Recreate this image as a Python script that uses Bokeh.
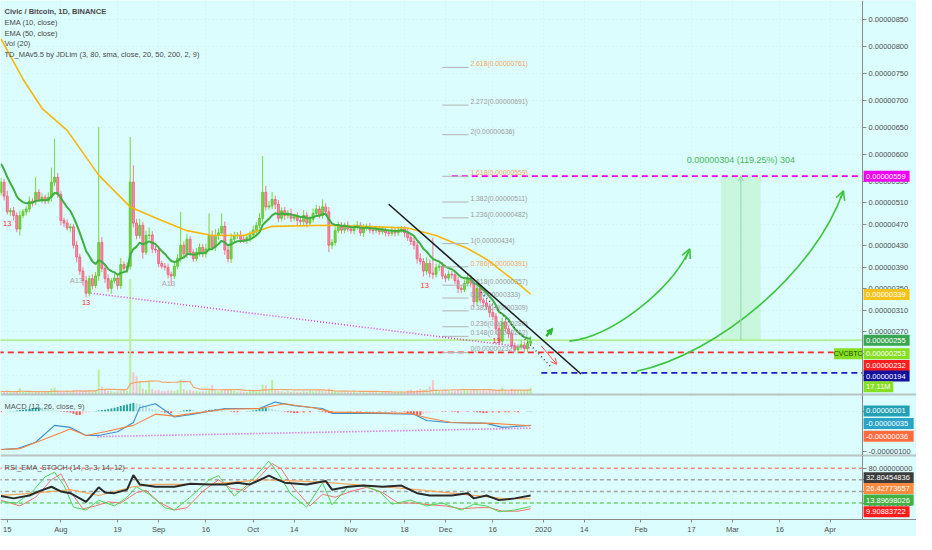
import numpy as np
import pandas as pd
from bokeh.plotting import figure
from bokeh.layouts import column
from bokeh.models import (ColumnDataSource, Range1d, FixedTicker, NumeralTickFormatter, LinearAxis,
                          Label, Span, Arrow, OpenHead, NormalHead, Grid)
from bokeh.core.properties import value
from bokeh.embed import file_html
from bokeh.resources import INLINE

SAT = 1e-8  # prices below are in satoshi (1e-8 BTC)

# ---------------- data ----------------
# day index 0 = 2019-07-13, one candle per day up to 2019-12-28
closes = [548, 522, 493, 495, 486, 461, 486, 493, 498, 513,
          511, 529, 516, 520, 513, 520, 548, 557, 525, 477,
          472, 463, 465, 431, 409, 383, 365, 342, 369, 356,
          374, 436, 388, 369, 351, 365, 370, 356, 395, 388,
          392, 548, 472, 449, 468, 418, 449, 450, 424, 422,
          397, 392, 390, 377, 374, 392, 406, 431, 415, 442,
          418, 406, 418, 427, 415, 424, 449, 427, 449, 454,
          466, 422, 406, 442, 449, 450, 442, 440, 445, 450,
          459, 468, 481, 529, 502, 504, 516, 507, 481, 495,
          486, 490, 481, 484, 477, 475, 486, 472, 479, 490,
          498, 486, 502, 493, 431, 436, 458, 468, 459, 468,
          461, 458, 465, 468, 454, 463, 466, 459, 458, 461,
          456, 459, 454, 453, 458, 454, 459, 461, 454, 445,
          438, 431, 406, 401, 383, 397, 379, 377, 390, 392,
          374, 370, 377, 376, 365, 351, 349, 360, 370, 361,
          326, 351, 329, 324, 317, 306, 299, 276, 253, 288,
          276, 267, 244, 237, 242, 246, 239, 249, 253]
first_open = 529
wick_up = [8, 6, 10, 5, 7, 6, 9, 5, 6, 8,
           5, 28, 6, 7, 5, 9, 27, 71, 8, 6,
           5, 7, 6, 5, 8, 6, 7, 9, 6, 8,
           7, 214, 10, 6, 8, 5, 7, 6, 12, 6,
           7, 84, 31, 8, 12, 6, 9, 14, 7, 6,
           8, 5, 6, 7, 5, 9, 8, 62, 7, 10,
           6, 5, 8, 7, 6, 10, 41, 9, 12, 8,
           24, 9, 6, 11, 7, 5, 8, 6, 5, 7,
           8, 6, 10, 67, 12, 9, 14, 7, 8, 6,
           7, 6, 9, 5, 8, 6, 10, 7, 6, 9,
           8, 6, 14, 7, 9, 6, 8, 7, 6, 5,
           7, 6, 5, 8, 6, 7, 5, 6, 8, 5,
           6, 7, 5, 6, 8, 5, 7, 6, 5, 7,
           6, 8, 7, 10, 6, 12, 8, 66, 7, 6,
           8, 5, 7, 6, 5, 8, 6, 7, 9, 6,
           8, 7, 6, 5, 7, 6, 8, 6, 7, 9,
           6, 5, 7, 6, 5, 8, 6, 7, 9]
wick_dn = [6, 8, 5, 7, 9, 6, 12, 5, 7, 6,
           8, 6, 5, 7, 6, 5, 8, 7, 6, 9,
           7, 5, 8, 6, 10, 7, 9, 8, 6, 7,
           5, 9, 7, 8, 6, 10, 5, 7, 6, 8,
           9, 6, 8, 7, 6, 12, 5, 7, 8, 6,
           7, 5, 6, 8, 18, 6, 5, 7, 6, 8,
           7, 6, 5, 8, 6, 7, 5, 6, 7, 8,
           6, 9, 7, 8, 5, 6, 7, 5, 6, 8,
           5, 7, 6, 8, 7, 5, 6, 9, 7, 6,
           8, 6, 7, 5, 9, 6, 7, 8, 5, 6,
           7, 5, 6, 8, 13, 7, 6, 5, 7, 6,
           5, 6, 7, 5, 6, 8, 5, 6, 7, 5,
           6, 5, 7, 6, 5, 7, 6, 5, 8, 6,
           7, 8, 9, 6, 10, 7, 8, 9, 6, 7,
           6, 8, 5, 7, 6, 9, 7, 5, 6, 8,
           10, 7, 6, 8, 6, 9, 7, 10, 8, 6,
           7, 9, 6, 5, 6, 5, 7, 6, 5]
volume_m = [8, 7, 9, 6, 5, 8, 16, 6, 5, 7,
            5, 6, 8, 5, 6, 7, 15, 17, 10, 8,
            7, 9, 8, 12, 12, 9, 8, 10, 9, 8,
            10, 62, 20, 12, 9, 8, 7, 8, 10, 12,
            9, 290, 56, 46, 34, 15, 12, 34, 14, 10,
            12, 9, 8, 10, 11, 9, 12, 37, 14, 10,
            12, 9, 8, 7, 9, 8, 12, 24, 10, 8,
            9, 14, 12, 14, 9, 7, 8, 7, 6, 8,
            9, 7, 12, 25, 24, 14, 36, 12, 10, 8,
            7, 9, 6, 8, 7, 6, 8, 7, 9, 8,
            10, 12, 9, 8, 14, 10, 8, 7, 6, 8,
            7, 6, 8, 5, 6, 7, 5, 6, 7, 6,
            5, 6, 7, 6, 5, 6, 7, 8, 6, 10,
            12, 9, 11, 14, 12, 13, 20, 36, 12, 10,
            9, 11, 10, 8, 9, 12, 10, 11, 9, 10,
            13, 11, 10, 12, 9, 11, 12, 10, 12, 17,
            10, 9, 14, 12, 11, 10, 9, 12, 17.11]
macd_hist = [-2, -1, 0, 1, 1,
             2, 3, 4, 5, 6, 8, 9, 10, 9, 7, 6, 4,
             2, 1, -1, -1, -2, -3,
             -6, -9, -9, -7, -4,
             -2, -1, 1, 2,
             3, 4, 5, 7, 9, 11, 13, 15, 17, 19, 21, 20, 18, 15, 12, 9, 6, 4, 2,
             -1, -3, -4, -4, -2,
             -1, 1, 2,
             3, 4, 3,
             1, 0, 1, 2,
             3, 4, 5, 4, 3, 2,
             1, -1, -2, -2, -1, 0, 1, 1, 2,
             4, 6, 8, 9, 8, 6, 4, 2,
             1, -1,
             -2, -3, -4, -4, -3, -3, -2, -2, -1,
             0, 1, -1,
             -3, -4, -4, -3,
             -2, -1, 0, 1, 1, 0, -1, -1, 0, 1, 1, 1, 0, -1, 0, 1, 0, -1, -1, 0, 0, -1,
             -4, -6, -8, -9, -9, -7, -5, -3,
             -2, -1, 0, -1, -1, 0, -1, -1,
             -3, -2, -1, -1, 0, -1, -2,
             -3, -4, -4, -3, -3,
             -2, -3, -2, -2, -2, -1, -1, -2, -1,
             0, 1, 1]
macd_days = [0, 5, 11, 17, 22, 27, 31, 37, 42, 44, 49, 55, 61, 71, 82, 87, 93, 102, 105, 121,
             131, 135, 142, 154, 159, 168]
macd_vals = [-95, -93, -77, -35, -40, -60, -60, -51, -28, 9, 19, -14, -7, 7, 7, 23, 14, 7, -5, -5,
             -7, -23, -28, -30, -40, -35]
signal_days = [0, 6, 22, 27, 33, 42, 49, 55, 61, 71, 82, 90, 99, 105, 130, 135, 143, 156, 168]
signal_vals = [-95, -93, -44, -60, -51, -35, -7, -12, -5, 5, 7, 19, 9, -2, -5, -16, -28, -30, -36]
ema10_seed = 590
ema50_days = [0, 7, 13, 21, 31, 41, 51, 59, 67, 77, 86, 104, 114, 129, 138, 148, 154, 160, 165, 168]
ema50_vals = [814, 739, 685, 644, 561, 502, 477, 458, 449, 449, 466, 468, 466, 463, 449, 425, 405, 378,
              355, 340]
rsi_days = [0, 4, 9, 12, 16, 19, 22, 26, 27, 31, 33, 36, 40, 42, 44, 49, 55, 60, 66, 71, 75, 79, 85,
            87, 90, 97, 103, 105, 110, 115, 121, 127, 132, 136, 143, 148, 150, 154, 158, 163, 168]
rsi_vals = [32, 28, 33, 40, 48, 40, 37, 25, 22, 47, 38, 37, 43, 68, 52, 48, 48, 53, 52, 52, 55, 52, 67,
            62, 55, 52, 58, 43, 48, 50, 48, 50, 37, 33, 33, 37, 28, 33, 25, 28, 33]
rsi_ema_days = [0, 11, 22, 31, 42, 49, 66, 82, 93, 104, 121, 132, 143, 159, 168]
rsi_ema_vals = [33, 37, 43, 33, 48, 52, 52, 60, 58, 55, 48, 43, 37, 28, 27]
stoch_k_days = [0, 5, 10, 14, 17, 20, 23, 27, 31, 36, 40, 43, 47, 52, 55, 60, 66, 69, 74, 78, 83, 85,
                88, 92, 97, 102, 105, 110, 115, 120, 124, 130, 135, 140, 146, 150, 154, 158, 163, 168]
stoch_k_vals = [22, 20, 40, 65, 73, 50, 13, 8, 25, 15, 30, 48, 35, 12, 8, 30, 60, 67, 32, 50, 80, 92,
                70, 35, 13, 55, 17, 47, 50, 40, 18, 25, 15, 20, 8, 18, 15, 5, 8, 14]
stoch_d_days = [0, 6, 11, 16, 19, 22, 26, 30, 34, 38, 43, 46, 50, 55, 59, 64, 69, 73, 77, 82, 86, 89,
                93, 98, 102, 106, 111, 116, 121, 126, 131, 136, 141, 146, 151, 155, 159, 164, 168]
stoch_d_vals = [25, 15, 30, 60, 70, 40, 10, 15, 22, 20, 38, 42, 22, 8, 12, 40, 60, 45, 42, 65, 88, 78,
                45, 15, 35, 30, 40, 47, 38, 20, 20, 17, 15, 10, 12, 12, 6, 6, 10]
tick_days = [2, 19, 37, 50, 65, 80, 93, 111, 128, 141, 156, 172, 185, 203, 219, 232, 247, 263]
tick_labels = ["15", "Aug", "19", "Sep", "16", "Oct", "14", "Nov", "18", "Dec", "16", "2020",
               "14", "Feb", "17", "Mar", "16", "Apr"]
price_ticks = [850, 800, 750, 700, 650, 600, 550, 510, 470, 430, 390, 350, 310, 270, 230, 190]
fib_ratios = [2.618, 2.272, 2, 1.618, 1.382, 1.236, 1, 0.786, 0.618, 0.5, 0.382, 0.236, 0.148, 0]
fib_low, fib_high = 232, 434
range_low, range_high = 255, 559
range_text = "0.00000304 (119.25%) 304"
td_days = [2, 27, 134.4, 157.2, 23.9, 53.1]
td_vals = [472, 324, 356, 255, 365, 360]
td_text = ["13", "13", "13", "13", "A13", "A13"]

n = len(closes)
for arr in (wick_up, wick_dn, volume_m, macd_hist):
    assert len(arr) == n, len(arr)

# ---------------- style / layout ----------------
BG = "#dbfdfd"
AX = "#8a8a8a"
FONT = "Liberation Sans"
FW = 916
H1, H2, H3 = 394, 61, 64
AXIS_X = 273.3                 # where the price scale sits (day units)
XR = (-0.15, 290.4)
KPX = FW / (XR[1] - XR[0])     # pixels per day
GRID = "#cdeff0"


def base_fig(h, yr, ticks, bottom=0, xaxis=False):
    p = figure(frame_width=FW, frame_height=h, x_range=Range1d(*XR), y_range=Range1d(*yr),
               output_backend="svg", toolbar_location=None, y_axis_location=None,
               x_axis_location="below" if xaxis else None,
               min_border_left=0, min_border_right=0, min_border_top=0, min_border_bottom=bottom,
               background_fill_color=BG, border_fill_color=BG, outline_line_color=None)
    p.xgrid.grid_line_color = None
    p.ygrid.grid_line_color = None
    p.add_layout(Grid(dimension=0, ticker=FixedTicker(ticks=tick_days), grid_line_color=GRID,
                      grid_line_dash="1 3"))
    if ticks:
        p.add_layout(Grid(dimension=1, ticker=FixedTicker(ticks=ticks), grid_line_color=GRID,
                          grid_line_dash="1 3"))
    # keep the price-scale column clean
    p.quad(left=AXIS_X, right=XR[1], bottom=yr[0], top=yr[1], fill_color=BG, line_color=None)
    ax = LinearAxis(fixed_location=AXIS_X, ticker=FixedTicker(ticks=ticks),
                    formatter=NumeralTickFormatter(format="0.00000000"),
                    axis_line_color=AX, major_tick_line_color=AX, major_tick_out=4,
                    major_tick_in=0, minor_tick_line_color=None,
                    major_label_text_font_size="7.5px", major_label_text_color="#4d4d4d",
                    major_label_text_font=FONT, major_label_standoff=2)
    p.add_layout(ax, "right")
    return p


def tags(p, specs, yr, ref_h):
    xs, ys, ws, cols, txt, fgs, tx = [], [], [], [], [], [], []
    for t, bg, fg, ry in specs:
        w = len(t) * 4.1 + 5
        yv = yr[1] - ry / ref_h * (yr[1] - yr[0])
        xs.append(AXIS_X + (w / 2 + 1) / KPX)
        tx.append(AXIS_X + 3.5 / KPX)
        ys.append(yv)
        ws.append(w)
        cols.append(bg)
        txt.append(t)
        fgs.append(fg)
    p.rect(x=xs, y=ys, width=ws, height=11, width_units="screen", height_units="screen",
           fill_color=cols, line_color=None, level="overlay")
    p.text(x=tx, y=ys, text=txt, text_color=fgs, text_font_size="7.5px", text_baseline="middle",
           text_align="left", text_font=value(FONT), level="overlay")


def sep(p, loc):
    p.add_layout(Span(location=loc, dimension="width", line_color=AX, line_width=1.5))


# ---------------- main price panel ----------------
YMAIN = (154 * SAT, 885 * SAT)
p1 = base_fig(H1, YMAIN, [t * SAT for t in price_ticks])
p1.extra_y_ranges = {"vol": Range1d(0, 991)}

d = np.arange(n)
c = np.array(closes, dtype=float)
o = np.concatenate([[first_open], c[:-1]])
hi = np.maximum(o, c) + np.array(wick_up)
lo = np.minimum(o, c) - np.array(wick_dn)
up = c >= o
src = ColumnDataSource(dict(
    d=d, top=np.maximum(o, c) * SAT, bot=np.minimum(o, c) * SAT, hi=hi * SAT, lo=lo * SAT,
    fill=np.where(up, "#78d640", "#f590a4"), line=np.where(up, "#5bc22a", "#ee5a78"),
    wick=np.where(up, "#78d640", "#f07c93"),
    vol=np.array(volume_m), vcol=np.where(up, "#b8ef98", "#f6c3cc")))

# price range tool box
p1.quad(left=228.4, right=241.0, bottom=range_low * SAT, top=range_high * SAT,
        fill_color="#c3f5d6", fill_alpha=0.8, line_color=None)
p1.add_layout(Arrow(x_start=234.7, y_start=range_low * SAT, x_end=234.7, y_end=range_high * SAT,
                    line_color="#8fd6a6", line_width=1,
                    end=OpenHead(size=5, line_color="#8fd6a6", line_width=1)))
p1.text(x=[234.7], y=[(range_high + 30) * SAT], text=[range_text], text_align="center",
        text_baseline="middle", text_color="#45b95a", text_font_size="9px",
        text_font=value(FONT))

# horizontal drawings
hl_price = [range_high, fib_low, 194, range_low]
hl_start = [143.0, -1.0, 171.4, -1.0]
hl_color = ["#f000f0", "#ff2b2b", "#1c1cc8", "#b4ee94"]
hl_dash = ["6 4", "6 4", "6 4", "solid"]
for pr, xs_, col, ds in zip(hl_price, hl_start, hl_color, hl_dash):
    p1.line([xs_, AXIS_X], [pr * SAT, pr * SAT], line_color=col, line_dash=ds, line_width=1.7)

# volume
p1.vbar(x="d", top="vol", bottom=0, width=0.62, fill_color="vcol", line_color=None,
        y_range_name="vol", source=src)
vma = pd.Series(volume_m).rolling(20, min_periods=1).mean().values
p1.line(d, vma, line_color="#f3a46a", line_width=1.2, y_range_name="vol")

# candles
p1.segment(x0="d", y0="lo", x1="d", y1="hi", line_color="wick", line_width=1, source=src)
p1.vbar(x="d", top="top", bottom="bot", width=0.62, fill_color="fill", line_color="line",
        line_width=0.8, source=src)

# EMAs
ema10 = []
e = ema10_seed
for v in closes:
    e = e + (v - e) * 2 / 11
    ema10.append(e)
p1.line(ema50_days, [v * SAT for v in ema50_vals], line_color="#f6b60f", line_width=1.6)
p1.line(d, np.array(ema10) * SAT, line_color="#3fae3f", line_width=2)

# fibonacci
fib_price = [fib_low + r * (fib_high - fib_low) for r in fib_ratios]
fib_lab = [f"{r:g}({round(v) * SAT:.8f})" for r, v in zip(fib_ratios, fib_price)]
fib_col = ["#f5a65b" if r in (2.618, 1.618, 0.786) else "#9c9c9c" for r in fib_ratios]
for v in fib_price:
    p1.line([140.0, 148.3], [v * SAT, v * SAT], line_color="#b4b4b4", line_width=1)
p1.text(x=[148.9] * len(fib_price), y=[v * SAT for v in fib_price], text=fib_lab,
        text_color=fib_col, text_font_size="6.8px", text_baseline="bottom", text_align="left",
        text_font=value(FONT))

# trend lines
p1.line([28.5, 168.3], [342 * SAT, 240 * SAT], line_color="#e040e0", line_dash="1 2", line_width=1.6)
p1.line([123.0, 184.0], [507 * SAT, 192 * SAT], line_color="#1e1e1e", line_width=1.6)
p1.line([152.3, 174.5], [344 * SAT, 205 * SAT], line_color="#505050", line_dash="1 3", line_width=1.6)
p1.add_layout(Arrow(x_start=171.4, y_start=244 * SAT, x_end=176.3, y_end=210 * SAT,
                    line_color="#ff4d4d", line_width=1,
                    end=OpenHead(size=6, line_color="#ff4d4d", line_width=1)))
p1.add_layout(Arrow(x_start=173.0, y_start=262 * SAT, x_end=175.0, y_end=277 * SAT,
                    line_color="#2db52d", line_width=2.5,
                    end=NormalHead(size=6, fill_color="#2db52d", line_color="#2db52d")))
GC = "#3cc43c"
p1.bezier(x0=[180.3, 201.6], y0=[253 * SAT, 197 * SAT], x1=[218.5, 267.2], y1=[424 * SAT, 532 * SAT],
          cx0=[193.9, 227.8], cy0=[262 * SAT, 231 * SAT], cx1=[212.4, 258.5], cy1=[347 * SAT, 383 * SAT],
          line_color=GC, line_width=1.6)
for xs_, ys_, xe, ye in [(217.0, 404, 218.5, 424), (266.3, 517, 267.2, 532)]:
    p1.add_layout(Arrow(x_start=xs_, y_start=ys_ * SAT, x_end=xe, y_end=ye * SAT, line_color=GC,
                        line_width=1.6, end=OpenHead(size=9, line_color=GC, line_width=1.6)))

# TD sequential labels
p1.text(x=td_days, y=[v * SAT for v in td_vals], text=td_text,
        text_color=["#ff2d2d"] * 4 + ["#a8a8a8"] * 2, text_font_size="7.5px",
        text_align="center", text_baseline="middle", text_font=value(FONT))

# legend text
leg = ["Civic / Bitcoin, 1D, BINANCE", "EMA (10, close)", "EMA (50, close)", "Vol (20)",
       "TD_MAv5.5 by JDLim (3, 80, sma, close, 20, 50, 200, 2, 9)"]
for i, t in enumerate(leg):
    p1.add_layout(Label(x=4, y=H1 - 10.7 - 10.9 * i, x_units="screen", y_units="screen", text=t,
                        text_font=FONT, text_font_size="7.5px", text_color="#4a4a4a",
                        text_font_style="bold" if i == 0 else "normal", text_baseline="middle"))

tags(p1, [("0.00000559", "#f000f0", "white", 181), ("0.00000339", "#f5c21b", "white", 303),
          ("0.00000255", "#3aa552", "white", 350), ("0.00000253", "#86df22", "white", 364),
          ("0.00000232", "#ff1c1c", "white", 376), ("0.00000194", "#12129c", "white", 387),
          ("17.11M", "#86df22", "white", 398)], YMAIN, 406)
cv_y = YMAIN[1] - 364 / 406 * (YMAIN[1] - YMAIN[0])
p1.rect(x=[AXIS_X - 14.5 / KPX], y=[cv_y], width=28, height=11, width_units="screen",
        height_units="screen", fill_color="#86df22", line_color=None, level="overlay")
p1.text(x=[AXIS_X - 14.5 / KPX], y=[cv_y], text=["CVCBTC"], text_color="#1f4a00",
        text_font_size="7px", text_align="center", text_baseline="middle",
        text_font=value(FONT), level="overlay")
sep(p1, YMAIN[0])

# ---------------- MACD panel ----------------
YMACD = (-1.10e-6, 0.419e-6)
p2 = base_fig(H2, YMACD, [0, -1e-6])
hcol = []
for i, h in enumerate(macd_hist):
    prev = macd_hist[i - 1] if i else 0
    if h >= 0:
        hcol.append("#26a69a" if h >= prev else "#b2dfdb")
    else:
        hcol.append("#ff5252" if h <= prev else "#ffcdd2")
p2.vbar(x=d, top=np.array(macd_hist) * SAT, bottom=0, width=0.62, fill_color=hcol, line_color=None)
p2.line(macd_days, [v * SAT for v in macd_vals], line_color="#3d8fd0", line_width=1.1)
p2.line(signal_days, [v * SAT for v in signal_vals], line_color="#f5843e", line_width=1.1)
p2.line([30.6, 168.0], [-63 * SAT, -42 * SAT], line_color="#e040e0", line_dash="1 2", line_width=1.6)
p2.add_layout(Label(x=4, y=H2 - 11.6, x_units="screen", y_units="screen",
                    text="MACD (12, 26, close, 9)", text_font=FONT, text_font_size="7.5px",
                    text_color="#555555", text_baseline="middle"))
tags(p2, [("0.00000001", "#23a0b4", "white", 17), ("-0.00000035", "#2aa4c6", "white", 30),
          ("-0.00000036", "#ff6b3d", "white", 43)], YMACD, 63)
sep(p2, YMACD[0])
sep(p2, YMACD[1])

# ---------------- RSI panel ----------------
YRSI = (-8.3, 101.7)
p3 = base_fig(H3, YRSI, [80, 60, 40, 20], bottom=15, xaxis=True)
xa = p3.xaxis[0]
xa.ticker = FixedTicker(ticks=tick_days)
xa.major_label_overrides = {k: v for k, v in zip(tick_days, tick_labels)}
xa.axis_line_color = AX
xa.major_tick_line_color = AX
xa.major_tick_out = 3
xa.major_tick_in = 0
xa.minor_tick_line_color = None
xa.major_label_text_font_size = "7.5px"
xa.major_label_text_color = "#4d4d4d"
xa.major_label_text_font = FONT
xa.major_label_standoff = 2
for lvl, col in [(80, "#f28a80"), (60, "#a4a4a4"), (40, "#a4a4a4"), (20, "#6bd46b")]:
    p3.line([-1, AXIS_X], [lvl, lvl], line_color=col, line_dash="4 3", line_width=1.5)
p3.line(stoch_d_days, stoch_d_vals, line_color="#f47070", line_width=1)
p3.line(stoch_k_days, stoch_k_vals, line_color="#55d455", line_width=1)
p3.line(rsi_ema_days, rsi_ema_vals, line_color="#f6a75e", line_width=1.2)
p3.line(rsi_days, rsi_vals, line_color="#2a2a2a", line_width=2)
p3.add_layout(Label(x=4, y=H3 - 11.6, x_units="screen", y_units="screen",
                    text="RSI_EMA_STOCH (14, 3, 3, 14, 12)", text_font=FONT, text_font_size="7.5px",
                    text_color="#555555", text_baseline="middle"))
tags(p3, [("32.80454836", "#3c3c3c", "white", 23), ("26.42773657", "#ff8a3d", "white", 34),
          ("13.89698026", "#43b043", "white", 46), ("9.90883722", "#ff1c1c", "white", 58)], YRSI, 66)
sep(p3, YRSI[1])

layout = column(p1, p2, p3, spacing=0)
open("out.html", "w").write(file_html(layout, INLINE))
